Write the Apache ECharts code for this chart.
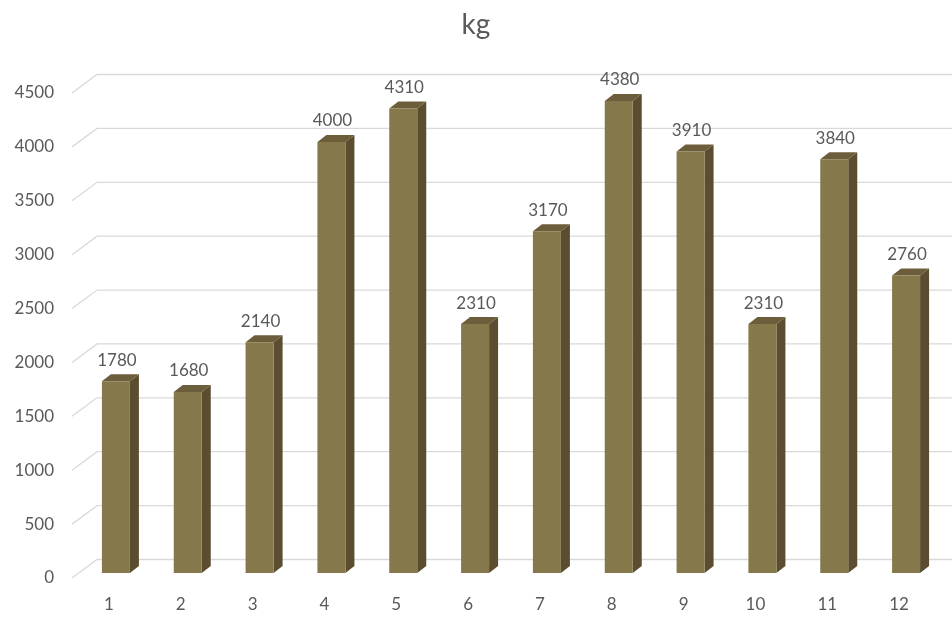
<!DOCTYPE html>
<html>
<head>
<meta charset="utf-8">
<script src="https://cdn.jsdelivr.net/npm/echarts@6/dist/echarts.min.js"></script>
<style>
html,body{margin:0;padding:0;background:#fff;}
#chart{width:952px;height:617px;}
</style>
</head>
<body>
<div id="chart"></div>
<script>
var titleText = 'kg';
var categories = ['1','2','3','4','5','6','7','8','9','10','11','12'];
var values = [1780, 1680, 2140, 4000, 4310, 2310, 3170, 4380, 3910, 2310, 3840, 2760];
var yTicks = [0, 500, 1000, 1500, 2000, 2500, 3000, 3500, 4000, 4500];

var FONT = 'Lato, "Open Sans", sans-serif';
var TEXT = '#595959';
var FRONT = '#85784a';
var SIDE = '#5a4d30';
var TOP = '#6c5e3a';
var GRID = '#d9d9d9';
var DEPTH_X = 25, DEPTH_Y = -18.5;

var chart = echarts.init(document.getElementById('chart'), null, {renderer: 'canvas'});

chart.setOption({
  animation: false,
  backgroundColor: '#ffffff',
  title: {
    text: titleText,
    left: 'center',
    top: 6,
    textStyle: {fontFamily: FONT, fontSize: 28, fontWeight: 'normal', color: TEXT}
  },
  grid: {left: 73, right: 17, top: 93, bottom: 39},
  xAxis: {
    type: 'category',
    data: categories,
    axisLine: {show: false},
    axisTick: {show: false},
    axisLabel: {fontFamily: FONT, fontSize: 17, color: TEXT, margin: 18}
  },
  yAxis: {
    type: 'value',
    min: 0,
    max: 4500,
    interval: 500,
    axisLine: {show: false},
    axisTick: {show: false},
    splitLine: {show: false},
    axisLabel: {fontFamily: FONT, fontSize: 17, color: TEXT, margin: 19, formatter: function (v) { return String(v); }}
  },
  series: [
    {
      type: 'custom',
      data: yTicks.map(function (v) { return [0, v]; }),
      silent: true,
      clip: false,
      z: 1,
      renderItem: function (params, api) {
        var cs = params.coordSys;
        var p = api.coord([0, api.value(1)]);
        var y = p[1];
        return {
          type: 'polyline',
          shape: {points: [[cs.x - 1, y], [cs.x - 1 + DEPTH_X, y + DEPTH_Y], [cs.x + cs.width + 40, y + DEPTH_Y]]},
          style: {stroke: GRID, lineWidth: 1.3, fill: null}
        };
      }
    },
    {
      type: 'custom',
      data: values.map(function (v, i) { return [i, v]; }),
      clip: false,
      z: 2,
      renderItem: function (params, api) {
        var i = api.value(0), v = api.value(1);
        var p0 = api.coord([i, 0]);
        var p1 = api.coord([i, v]);
        var cx = p0[0] + 7;
        var w = 28;
        var l = cx - w / 2, r = cx + w / 2;
        var b = p0[1] - 5, t = p1[1] - 5;
        var dx = 9, dy = -7;
        return {
          type: 'group',
          children: [
            {type: 'polygon', shape: {points: [[r, b], [r + dx, b + dy], [r + dx, t + dy], [r, t]]}, style: {fill: SIDE}},
            {type: 'polygon', shape: {points: [[l, t], [l + dx, t + dy], [r + dx, t + dy], [r, t]]}, style: {fill: TOP}},
            {type: 'rect', shape: {x: l, y: t, width: w, height: b - t}, style: {fill: FRONT}},
            {type: 'text', x: cx + 1, y: t - 21, style: {text: String(v), fontFamily: FONT, fontSize: 17, fill: TEXT, align: 'center', verticalAlign: 'middle'}}
          ]
        };
      }
    }
  ]
});
</script>
</body>
</html>
